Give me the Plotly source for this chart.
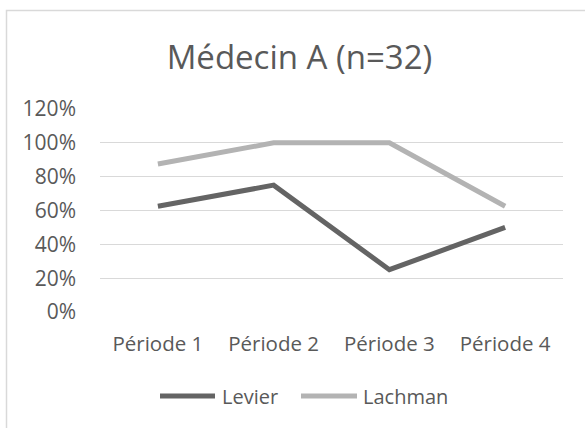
import plotly.graph_objects as go

categories = ["Période 1", "Période 2", "Période 3", "Période 4"]
levier = [62.5, 75, 25, 50]
lachman = [87.5, 100, 100, 62.5]
y_ticks = [0, 20, 40, 60, 80, 100, 120]
y_tick_labels = ["0%", "20%", "40%", "60%", "80%", "100%", "120%"]
series_names = ["Levier", "Lachman"]
series_colors = ["#646464", "#b3b3b3"]

font_family = "Open Sans, Liberation Sans, sans-serif"
text_color = "#595959"

fig = go.Figure()
for name, vals, col in zip(series_names, [levier, lachman], series_colors):
    fig.add_trace(go.Scatter(x=categories, y=vals, mode="lines", name=name,
                             line=dict(color=col, width=5), showlegend=False))

W, H = 585, 428
ml, mr, mt, mb = 100, 22, 109, 116
pw, ph = W - ml - mr, H - mt - mb

def px_x(x):
    return (x - ml) / pw

def px_y(y):
    return (H - mb - y) / ph

# manual legend (Excel style: long line sample followed by the name)
legend_line_x = [(160, 215), (301, 357)]
legend_text_x = [220, 361]
legend_y = 396
shapes = [dict(type="rect", xref="paper", yref="paper",
               x0=px_x(6.5), x1=px_x(640), y0=px_y(480), y1=px_y(10.5),
               line=dict(color="#d9d9d9", width=1.5), layer="below")]
annotations = []
for (x0, x1), tx, name, col in zip(legend_line_x, legend_text_x, series_names, series_colors):
    shapes.append(dict(type="line", xref="paper", yref="paper",
                       x0=px_x(x0), x1=px_x(x1), y0=px_y(legend_y), y1=px_y(legend_y),
                       line=dict(color=col, width=5)))
    annotations.append(dict(text=name, xref="paper", yref="paper",
                            x=px_x(tx), y=px_y(legend_y), xanchor="left", yanchor="middle",
                            showarrow=False, font=dict(size=20, color=text_color)))

fig.update_layout(
    width=W, height=H,
    margin=dict(l=ml, r=mr, t=mt, b=mb, autoexpand=False),
    paper_bgcolor="white", plot_bgcolor="white",
    font=dict(family=font_family, color=text_color, size=20),
    title=dict(text="Médecin A (n=32)", x=299.5 / W, xanchor="center",
               y=1 - 57 / H, yanchor="middle",
               font=dict(size=33, color=text_color, family=font_family)),
    showlegend=False,
    xaxis=dict(type="category", range=[-0.5, 3.5], showgrid=False,
               showline=False, zeroline=False, ticks="",
               tickfont=dict(size=20.5, color=text_color),
               ticklabelstandoff=17, fixedrange=True),
    yaxis=dict(range=[0, 120], tickvals=y_ticks, ticktext=y_tick_labels,
               showgrid=True, gridcolor="#d9d9d9", gridwidth=1.3,
               zeroline=False, showline=False, ticks="",
               tickfont=dict(size=21, color=text_color),
               ticklabelstandoff=23, fixedrange=True),
    shapes=shapes,
    annotations=annotations,
)

fig.write_html("out.html", config={"displayModeBar": False},
               post_script="document.body.style.margin='0';document.body.style.overflow='hidden';")
